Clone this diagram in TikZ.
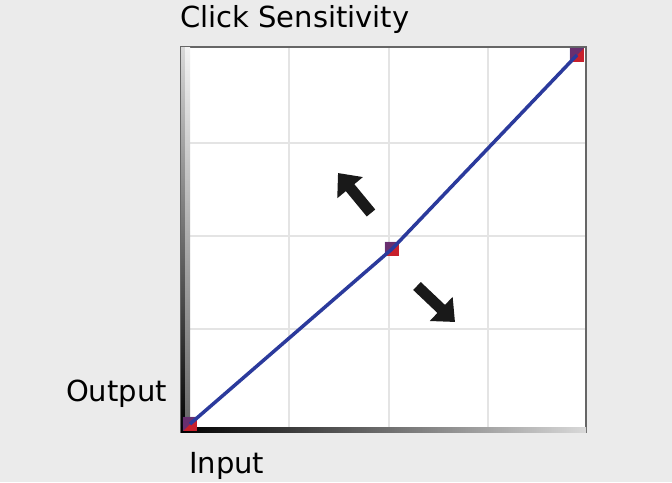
\documentclass[tikz,border=0pt]{standalone}
\usepackage{fontspec}
\setmainfont{DejaVu Sans}
\usetikzlibrary{arrows.meta}
\definecolor{bg}{HTML}{EBEBEB}
\definecolor{gridc}{HTML}{E4E4E4}
\definecolor{curve}{HTML}{2B3A9C}
\definecolor{ptred}{HTML}{C8202C}
\tikzset{
  lbl/.style={font=\fontsize{29}{32}\selectfont, text=black, inner sep=0pt},
  gridline/.style={draw=gridc, line width=1.5pt},
  pt/.style={draw=none, fill=ptred, minimum size=14pt, inner sep=0pt},
  bigarrow/.style={line width=11pt, -{Triangle[length=19pt,width=32pt]}, black!90},
}
\begin{document}
\begin{tikzpicture}[x=1pt,y=-1pt]
\fill[bg] (0,0) rectangle (672,482);
\useasboundingbox (0,0) rectangle (672,482);
% panel
\fill[white] (181,47) rectangle (586,432);
\foreach \x in {289,389,488} \draw[gridline] (\x,48) -- (\x,431);
\foreach \y in {143,236,329} \draw[gridline] (182,\y) -- (585,\y);
\draw[gray!80!black, line width=1.5pt] (181,47) rectangle (586,432);
% gradient edges
\shade[top color=white!85!black, bottom color=black] (181,47) rectangle (185,432);
\shade[top color=white!95!black, bottom color=black!60] (185,47) rectangle (190,432);
\shade[left color=black, right color=white!85!black] (181,427) rectangle (586,432);
% points and curve
\node[pt] (p0) at (190,424) {};
\node[pt] (p1) at (392,249) {};
\node[pt] (p2) at (577,55) {};
\draw[curve, line width=3.5pt] (p0.center) -- (p1.center) -- (p2.center);
\fill[curve, opacity=0.6] (p0.north west) -- (p0.north east) -- (p0.south west) -- cycle;
\fill[curve, opacity=0.6] (p1.north west) -- (p1.north east) -- (p1.south west) -- cycle;
\fill[curve, opacity=0.6] (p2.north west) -- (p2.north east) -- (p2.south west) -- cycle;
% arrows
\coordinate (a1s) at (371,213);
\coordinate (a1e) at (338,173);
\coordinate (a2s) at (417,286);
\coordinate (a2e) at (455,322);
\draw[bigarrow] (a1s) -- (a1e);
\draw[bigarrow] (a2s) -- (a2e);
% labels
\node[lbl, anchor=west] (title) at (180,19) {Click Sensitivity};
\node[lbl, anchor=east] (out) at (167,394) {Output};
\node[lbl, anchor=west] (in) at (189,466) {Input};
\end{tikzpicture}
\end{document}
